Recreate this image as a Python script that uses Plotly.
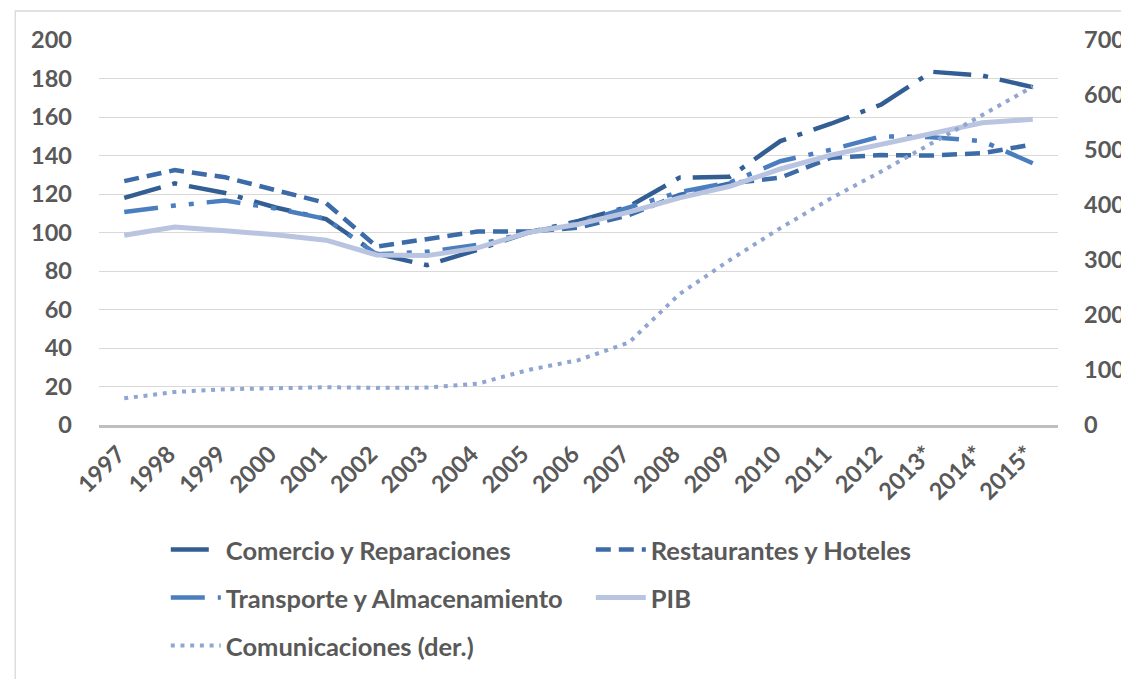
import plotly.graph_objects as go

years = ["1997", "1998", "1999", "2000", "2001", "2002", "2003", "2004", "2005",
         "2006", "2007", "2008", "2009", "2010", "2011", "2012", "2013*", "2014*", "2015*"]
comercio = [118, 125.5, 120.5, 113, 107, 89, 83, 91, 100, 106, 113.5, 128.5, 129,
            147.5, 156.5, 166.5, 183.5, 181.5, 175.5]
restaurantes = [126.7, 132.4, 128.7, 122, 115.3, 92.7, 96.5, 100.5, 100.5, 102.5, 109,
                119.5, 125.5, 128.5, 138.8, 140.2, 140, 141.2, 145.7]
transporte = [110.7, 114, 116.6, 112.5, 107, 88.7, 90, 93.6, 100, 105, 113, 121, 126,
              137, 143, 150, 149.5, 147.5, 136]
pib = [98.6, 102.8, 100.9, 98.8, 96, 88.3, 88, 92, 100, 104.3, 110.6, 118, 124, 133,
       140.2, 145.7, 151.8, 157, 158.8]
comunicaciones = [48.5, 60, 65, 67.4, 68.7, 67.5, 68, 75, 100, 118, 150, 238, 300, 358,
                  412, 461, 512, 562, 615]

TICKFONT = dict(family="Lato", size=23.5, color="#595959", weight="bold")
LEGFONT = dict(family="Lato", size=25.5, color="#595959", weight="bold")

W, H = 1129, 679
L, R, T, B = 91, 76, 32, 262
PW, PH = W - L - R, H - T - B


def px_x(p):
    return (p - L) / PW


def px_y(p):
    return (H - B - p) / PH


fig = go.Figure()
fig.add_trace(go.Scatter(x=years, y=comercio, name="Comercio y Reparaciones", mode="lines",
                         line=dict(color="#335E93", width=4.5, dash="38px,12px,5px,12px"),
                         legend="legend"))
fig.add_trace(go.Scatter(x=years, y=restaurantes, name="Restaurantes y Hoteles", mode="lines",
                         line=dict(color="#3C6BA8", width=4.5, dash="15px,8px"),
                         legend="legend"))
fig.add_trace(go.Scatter(x=years, y=transporte, name="Transporte y Almacenamiento", mode="lines",
                         line=dict(color="#4B7EBE", width=4.5,
                                   dash="34px,13px,5px,13px,5px,13px"),
                         legend="legend2"))
fig.add_trace(go.Scatter(x=years, y=pib, name="PIB", mode="lines",
                         line=dict(color="#B8C4E0", width=5),
                         legend="legend2"))
fig.add_trace(go.Scatter(x=years, y=comunicaciones, name="Comunicaciones (der.)", mode="lines",
                         line=dict(color="#8FA5D2", width=4, dash="4px,5.7px"),
                         yaxis="y2", legend="legend3"))

leg_common = dict(orientation="h", entrywidth=360, entrywidthmode="pixels",
                  xanchor="left", yanchor="middle", font=LEGFONT, itemwidth=50,
                  bgcolor="rgba(0,0,0,0)", traceorder="normal")
lx = px_x(158)

fig.update_layout(
    width=W, height=H,
    margin=dict(l=L, r=R, t=T, b=B),
    paper_bgcolor="white", plot_bgcolor="white",
    font=TICKFONT,
    showlegend=True,
    legend=dict(x=lx, y=px_y(542), **leg_common),
    legend2=dict(x=lx, y=px_y(590), **leg_common),
    legend3=dict(x=lx, y=px_y(638), **leg_common),
    xaxis=dict(type="category", tickangle=-45, showgrid=False, showline=True,
               linecolor="#BFBFBF", linewidth=3, ticks="", tickfont=TICKFONT,
               ticklabelstandoff=3, ticklabelshift=-6, range=[-0.5, 18.5]),
    yaxis=dict(range=[0, 200], dtick=20, showgrid=True, gridcolor="#D9D9D9", gridwidth=1.3,
               zeroline=False, showline=False, ticks="", tickfont=TICKFONT,
               ticklabelstandoff=26),
    yaxis2=dict(range=[0, 700], dtick=100, overlaying="y", side="right", showgrid=False,
                zeroline=False, showline=False, ticks="", tickfont=TICKFONT,
                ticklabelstandoff=25),
    shapes=[dict(type="rect", xref="paper", yref="paper",
                 x0=px_x(7), x1=px_x(1140), y0=px_y(695), y1=px_y(3),
                 line=dict(color="#D9D9D9", width=1.3), fillcolor="rgba(0,0,0,0)",
                 layer="below")],
)

fig.write_html("out.html")
